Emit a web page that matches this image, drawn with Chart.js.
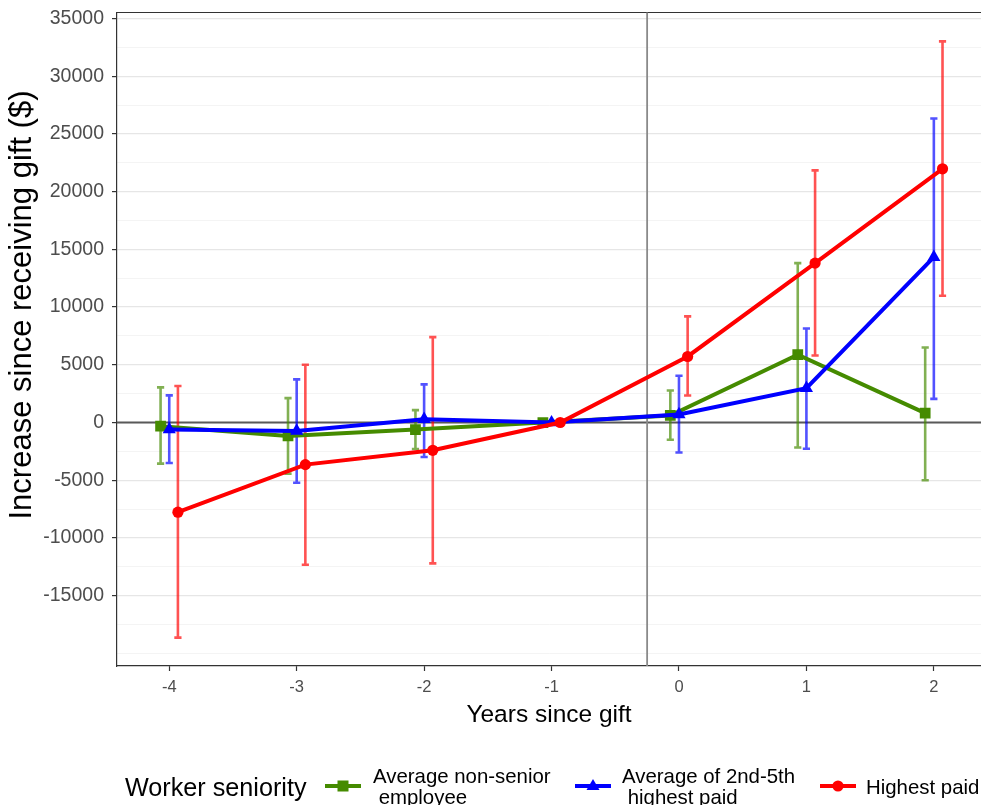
<!DOCTYPE html>
<html>
<head>
<meta charset="utf-8">
<title>Increase since receiving gift by worker seniority</title>
<script src="https://cdn.jsdelivr.net/npm/chart.js@4.4.1/dist/chart.umd.min.js"></script>
<style>
  html, body { margin: 0; padding: 0; background: #ffffff; }
  #wrap { position: relative; width: 981px; height: 805px; overflow: hidden; }
  #c { position: absolute; left: 0; top: 0; }
  .leg { position: absolute; font-family: "Liberation Sans", Arial, Helvetica, sans-serif; color: #000; white-space: pre; }
  .legTitle { font-size: 25.2px; line-height: 29px; }
  .legText { font-size: 20.4px; line-height: 21px; }
  .legKey { position: absolute; }
</style>
</head>
<body>
<div id="wrap">
  <canvas id="c" width="981" height="805"></canvas>
  <div id="legend"></div>
</div>
<script>
// Years relative to the gift (x axis categories)
const years = [-4, -3, -2, -1, 0, 1, 2];

// Series labels for the legend
const seriesLabels = ['Average non-senior\n employee', 'Average of 2nd-5th\n highest paid', 'Highest paid'];

// Average non-senior employee: estimate and 95% interval
const nonSeniorMean = [-320, -1160, -610, 0, 610, 5870, 810];
const nonSeniorLow  = [-3560, -4430, -2290, 0, -1500, -2170, -5000];
const nonSeniorHigh = [3040, 2110, 1070, 0, 2770, 13810, 6500];

// Average of 2nd-5th highest paid
const secondFifthMean = [-610, -730, 290, 0, 700, 2980, 14330];
const secondFifthLow  = [-3510, -5220, -2990, 0, -2600, -2280, 2050];
const secondFifthHigh = [2350, 3740, 3300, 0, 4050, 8150, 26340];

// Highest paid
const highestMean = [-7770, -3650, -2410, 0, 5720, 13810, 21980];
const highestLow  = [-18640, -12320, -12200, 0, 2340, 5810, 10980];
const highestHigh = [3160, 5000, 7400, 0, 9190, 21840, 33020];

// Labelled y ticks and lighter in-between grid lines
const yMajorTicks = [-15000, -10000, -5000, 0, 5000, 10000, 15000, 20000, 25000, 30000, 35000];
const yMinorLines = [-20000, -17500, -12500, -7500, -2500, 2500, 7500, 12500, 17500, 22500, 27500, 32500];

// Axis titles
const xTitle = 'Years since gift';
const yTitle = 'Increase since receiving gift ($)';

// Timing of the gift (vertical reference line)
const giftLine = -0.25;

// Horizontal dodge between the three series
const dodge = [-0.068, 0, 0.068];

const colors = ['#458B00', '#0000FF', '#FF0000'];
const barColors = ['rgba(69,139,0,0.68)', 'rgba(0,0,255,0.68)', 'rgba(255,0,0,0.68)'];
const pointStyles = ['rect', 'triangle', 'circle'];
const pointRadii = [7.6, 7.6, 5.6];

const means = [nonSeniorMean, secondFifthMean, highestMean];
const lows = [nonSeniorLow, secondFifthLow, highestLow];
const highs = [nonSeniorHigh, secondFifthHigh, highestHigh];

const fontFamily = '"Liberation Sans", Arial, Helvetica, sans-serif';

const datasets = means.map((m, i) => ({
  label: seriesLabels[i],
  data: years.map((yr, j) => ({ x: yr + dodge[i], y: m[j] })),
  low: lows[i],
  high: highs[i],
  showLine: true,
  borderColor: colors[i],
  backgroundColor: colors[i],
  borderWidth: 4,
  pointStyle: pointStyles[i],
  pointRadius: pointRadii[i],
  pointBorderWidth: 0,
  pointHoverRadius: pointRadii[i],
  order: 3 - i
}));

// Reference lines, top frame line and error bars, drawn under the series
const underlay = {
  id: 'underlay',
  beforeDatasetsDraw(chart) {
    const { ctx, chartArea, scales } = chart;
    const xs = scales.x, ys = scales.y;
    ctx.save();
    // top frame
    ctx.strokeStyle = '#333333';
    ctx.lineWidth = 1.2;
    ctx.beginPath();
    ctx.moveTo(chartArea.left, chartArea.top);
    ctx.lineTo(chartArea.right, chartArea.top);
    ctx.stroke();
    // zero line
    const y0 = ys.getPixelForValue(0);
    ctx.strokeStyle = '#595959';
    ctx.lineWidth = 2;
    ctx.beginPath();
    ctx.moveTo(chartArea.left, y0);
    ctx.lineTo(chartArea.right, y0);
    ctx.stroke();
    // gift timing
    const xg = xs.getPixelForValue(giftLine);
    ctx.strokeStyle = '#8a8a8a';
    ctx.lineWidth = 1.8;
    ctx.beginPath();
    ctx.moveTo(xg, chartArea.top);
    ctx.lineTo(xg, chartArea.bottom);
    ctx.stroke();
    // error bars
    chart.data.datasets.forEach((ds, i) => {
      ctx.strokeStyle = barColors[i];
      ctx.lineWidth = 2.6;
      ds.data.forEach((p, j) => {
        if (ds.low[j] === ds.high[j]) return;
        const x = xs.getPixelForValue(p.x);
        const yl = ys.getPixelForValue(ds.low[j]);
        const yh = ys.getPixelForValue(ds.high[j]);
        const cap = 3.6;
        ctx.beginPath();
        ctx.moveTo(x, yl); ctx.lineTo(x, yh);
        ctx.moveTo(x - cap, yl); ctx.lineTo(x + cap, yl);
        ctx.moveTo(x - cap, yh); ctx.lineTo(x + cap, yh);
        ctx.stroke();
      });
    });
    ctx.restore();
  }
};

// Rotated y axis title, placed a little above the middle of the panel
const yTitlePlugin = {
  id: 'yTitle',
  afterDraw(chart) {
    const { ctx, chartArea } = chart;
    ctx.save();
    ctx.translate(22, chartArea.top + 292.5);
    ctx.rotate(-Math.PI / 2);
    ctx.font = '31px ' + fontFamily;
    ctx.fillStyle = '#000000';
    ctx.textAlign = 'center';
    ctx.textBaseline = 'middle';
    ctx.fillText(yTitle, 0, 0);
    ctx.restore();
  }
};

const isMajor = v => yMajorTicks.includes(v);

new Chart(document.getElementById('c'), {
  type: 'scatter',
  data: { datasets },
  plugins: [underlay, yTitlePlugin],
  options: {
    responsive: false,
    animation: false,
    devicePixelRatio: 1,
    layout: { autoPadding: false, padding: { top: 12.5, right: 0, bottom: 64, left: 0 } },
    plugins: { legend: { display: false }, tooltip: { enabled: false } },
    scales: {
      x: {
        type: 'linear',
        min: -4.41,
        max: 2.37,
        afterBuildTicks: s => { s.ticks = years.map(v => ({ value: v })); },
        afterFit: s => { s.height = 75; s.paddingLeft = 0; s.paddingRight = 0; },
        grid: { drawOnChartArea: false, drawTicks: true, tickLength: 5, tickColor: '#333333', tickWidth: 1.2 },
        border: { color: '#333333', width: 1.2 },
        ticks: { color: '#4d4d4d', font: { family: fontFamily, size: 16.5 }, padding: 7, maxRotation: 0 },
        title: { display: true, text: xTitle, color: '#000000',
                 font: { family: fontFamily, size: 24.5 }, padding: { top: 0, bottom: 11.5 } }
      },
      y: {
        type: 'linear',
        min: -21095,
        max: 35520,
        afterBuildTicks: s => {
          s.ticks = yMinorLines.concat(yMajorTicks).sort((a, b) => a - b).map(v => ({ value: v }));
        },
        afterFit: s => { s.width = 117; s.paddingTop = 0; s.paddingBottom = 0; },
        grid: {
          color: c => isMajor(c.tick.value) ? '#e6e6e6' : '#f1f1f1',
          lineWidth: c => isMajor(c.tick.value) ? 1.2 : 0.8,
          tickColor: c => isMajor(c.tick.value) ? '#333333' : 'rgba(0,0,0,0)',
          tickLength: 5,
          tickWidth: 1.2
        },
        border: { color: '#333333', width: 1.2 },
        ticks: {
          color: '#4d4d4d',
          font: { family: fontFamily, size: 19.5 },
          padding: 8,
          autoSkip: false,
          callback: v => isMajor(v) ? String(v) : ''
        },
        title: { display: false }
      }
    }
  }
});

// Legend: title on the left, then one key per series
(function buildLegend() {
  const host = document.getElementById('legend');
  const title = document.createElement('div');
  title.className = 'leg legTitle';
  title.textContent = 'Worker seniority';
  title.style.left = '125px';
  title.style.top = '773px';
  host.appendChild(title);

  const keyLeft = [325, 575, 820];
  const textLeft = [373, 622, 866];
  seriesLabels.forEach((lab, i) => {
    const svgNS = 'http://www.w3.org/2000/svg';
    const svg = document.createElementNS(svgNS, 'svg');
    svg.setAttribute('width', '36');
    svg.setAttribute('height', '18');
    svg.setAttribute('class', 'legKey');
    svg.style.left = keyLeft[i] + 'px';
    svg.style.top = '777px';
    const line = document.createElementNS(svgNS, 'line');
    line.setAttribute('x1', '0'); line.setAttribute('x2', '36');
    line.setAttribute('y1', '9'); line.setAttribute('y2', '9');
    line.setAttribute('stroke', colors[i]); line.setAttribute('stroke-width', '4');
    svg.appendChild(line);
    let mark;
    if (pointStyles[i] === 'rect') {
      mark = document.createElementNS(svgNS, 'rect');
      mark.setAttribute('x', '12.5'); mark.setAttribute('y', '3.5');
      mark.setAttribute('width', '11'); mark.setAttribute('height', '11');
    } else if (pointStyles[i] === 'triangle') {
      mark = document.createElementNS(svgNS, 'polygon');
      mark.setAttribute('points', '18,2 24.5,13 11.5,13');
    } else {
      mark = document.createElementNS(svgNS, 'circle');
      mark.setAttribute('cx', '18'); mark.setAttribute('cy', '9'); mark.setAttribute('r', '5.6');
    }
    mark.setAttribute('fill', colors[i]);
    svg.appendChild(mark);
    host.appendChild(svg);

    const t = document.createElement('div');
    t.className = 'leg legText';
    t.textContent = lab;
    t.style.left = textLeft[i] + 'px';
    t.style.top = lab.includes('\n') ? '766px' : '777px';
    host.appendChild(t);
  });
})();
</script>
</body>
</html>
